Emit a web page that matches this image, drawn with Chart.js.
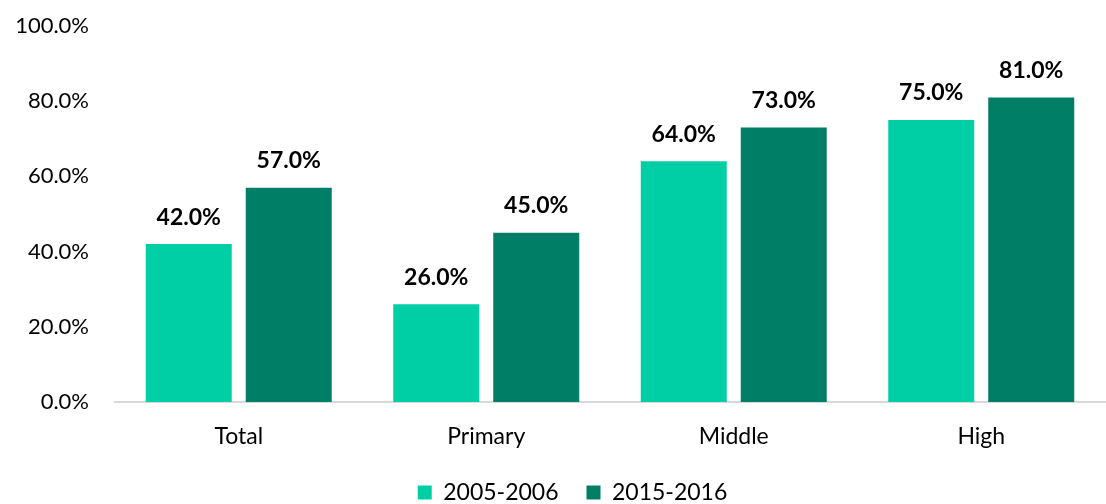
<!DOCTYPE html>
<html>
<head>
<meta charset="utf-8">
<script src="https://cdn.jsdelivr.net/npm/chart.js@4.4.0/dist/chart.umd.min.js"></script>
<style>
  html, body { margin: 0; padding: 0; background: #fff; }
  #wrap { width: 1106px; height: 504px; }
</style>
</head>
<body>
<div id="wrap"><canvas id="myChart"></canvas></div>
<script>
// data
const categories = ["Total", "Primary", "Middle", "High"];
const series1Label = "2005-2006";
const series2Label = "2015-2016";
const series1 = [42, 26, 64, 75];
const series2 = [57, 45, 73, 81];
const yTicks = [0, 20, 40, 60, 80, 100];

const FONT = "Lato, 'Open Sans', sans-serif";

// draws the bold value above each bar
const barLabels = {
  id: 'barLabels',
  afterLayout(chart) {
    // legend sits a bit right of centre in the original
    chart.legend.left += 20;
    chart.legend.right += 20;
  },
  afterDatasetsDraw(chart) {
    const ctx = chart.ctx;
    ctx.save();
    ctx.font = "bold 23px " + FONT;
    ctx.fillStyle = "#000";
    ctx.textAlign = "center";
    ctx.textBaseline = "middle";
    chart.data.datasets.forEach((ds, i) => {
      chart.getDatasetMeta(i).data.forEach((bar, j) => {
        ctx.fillText(ds.data[j].toFixed(1) + "%", bar.x, bar.y - 27);
      });
    });
    ctx.restore();
  }
};

const data = {
  labels: categories,
  datasets: [
    { label: series1Label, data: series1, backgroundColor: "#00CFA5" },
    { label: series2Label, data: series2, backgroundColor: "#007F66" }
  ]
};

const config = {
  type: 'bar',
  data: data,
  options: {
    responsive: false,
    animation: false,
    layout: { padding: { top: 0, right: 1, left: 0, bottom: 0 } },
    datasets: { bar: { categoryPercentage: 0.808, barPercentage: 0.86 } },
    scales: {
      x: {
        afterFit(scale) { scale.height = 51; },
        grid: { display: false, drawTicks: false },
        border: { display: true, color: "#d9d9d9", width: 2 },
        ticks: { color: "#000", font: { family: FONT, size: 23 }, padding: 21 }
      },
      y: {
        min: 0, max: 100,
        afterFit(scale) {
          scale.width = 115;
          scale.paddingTop = 26;
          scale.paddingBottom = 0;
        },
        afterBuildTicks(scale) { scale.ticks = yTicks.map(v => ({ value: v })); },
        grid: { display: false, drawTicks: false },
        border: { display: false },
        ticks: {
          color: "#000", font: { family: FONT, size: 22 }, padding: 26,
          callback: v => v.toFixed(1) + "%"
        }
      }
    },
    plugins: {
      legend: {
        position: 'bottom',
        maxHeight: 51,
        labels: {
          color: "#000", font: { family: FONT, size: 23 },
          boxWidth: 14, boxHeight: 14, padding: 28
        }
      },
      tooltip: { enabled: false }
    }
  },
  plugins: [barLabels]
};

const canvas = document.getElementById('myChart');
canvas.width = 1106;
canvas.height = 504;
new Chart(canvas, config);
</script>
</body>
</html>
